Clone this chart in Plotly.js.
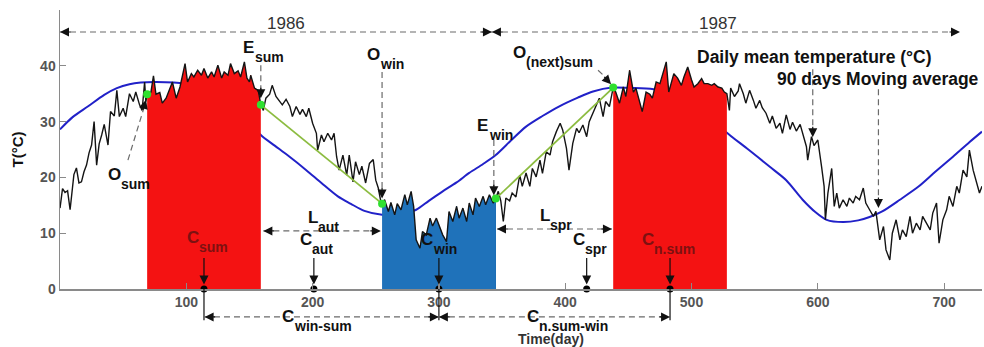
<!DOCTYPE html>
<html>
<head>
<meta charset="utf-8">
<script src="https://cdn.plot.ly/plotly-3.0.1.min.js"></script>
<style>
html, body { margin: 0; padding: 0; background: #ffffff; }
#chart { width: 984px; height: 347px; }
</style>
</head>
<body>
<div id="chart"></div>
<script>
// Daily mean temperature (°C), day of record over 1986-1987
const days = [
  0, 2, 4, 6, 8, 11, 13, 15, 17, 19, 21, 23, 25, 27, 29, 31, 33, 35, 38, 40,
  43, 45, 47, 50, 52, 55, 58, 60, 63, 65, 67, 68, 69, 72, 74, 76, 79, 81, 84, 87,
  89, 92, 95, 97, 99, 101, 104, 106, 109, 112, 114, 117, 120, 122, 125, 128, 130, 133, 135, 138,
  141, 143, 146, 148, 150, 151, 154, 157, 159, 161, 163, 166, 168, 171, 174, 176, 179, 182, 184, 187,
  190, 192, 195, 197, 200, 203, 204, 207, 209, 212, 215, 217, 219, 221, 224, 227, 229, 232, 234, 237,
  239, 242, 245, 248, 250, 252, 254, 255, 257, 260, 262, 265, 267, 270, 273, 275, 278, 280, 282, 285,
  287, 290, 293, 295, 298, 300, 303, 306, 308, 311, 314, 316, 319, 322, 324, 327, 329, 332, 335, 337,
  340, 343, 345, 347, 349, 351, 353, 356, 358, 361, 364, 366, 369, 372, 374, 377, 380, 382, 385, 388,
  390, 393, 396, 398, 401, 403, 406, 409, 411, 414, 417, 419, 422, 425, 427, 430, 432, 435, 438, 440,
  443, 446, 448, 451, 454, 456, 459, 461, 464, 467, 469, 472, 475, 477, 480, 482, 486, 489, 492, 494,
  497, 500, 502, 505, 508, 510, 513, 516, 518, 521, 524, 526, 528, 530, 531, 534, 537, 538, 541, 543,
  546, 549, 551, 554, 556, 559, 562, 564, 567, 570, 572, 575, 578, 580, 583, 586, 588, 591, 592, 595,
  597, 600, 603, 605, 606, 608, 611, 613, 615, 617, 620, 623, 625, 628, 630, 633, 636, 638, 641, 644,
  646, 649, 652, 654, 657, 659, 662, 665, 667, 670, 673, 675, 678, 681, 683, 686, 689, 691, 694, 696,
  699, 702, 704, 707, 710, 712, 715, 718, 720, 723, 725, 728, 730
];
const dailyTemp = [
  14.5, 18.0, 17.3, 17.6, 14.2, 20.5, 21.7, 19.0, 19.2, 21.0, 22.2, 24.4, 25.8, 30.0, 22.2, 26.0, 27.6, 29.5, 25.8, 31.8,
  31.0, 35.6, 30.9, 32.4, 30.9, 35.0, 33.6, 35.3, 33.0, 32.0, 37.1, 33.6, 34.9, 35.3, 38.2, 34.9, 35.2, 33.3, 34.2, 36.0,
  37.1, 34.2, 36.2, 38.3, 40.4, 37.1, 38.6, 38.0, 39.2, 38.3, 39.5, 37.8, 38.9, 38.0, 40.1, 37.8, 38.9, 38.3, 40.4, 38.6,
  39.1, 38.0, 40.7, 37.8, 37.1, 38.3, 36.0, 35.6, 33.0, 32.0, 34.2, 34.9, 36.5, 34.5, 33.6, 33.0, 34.0, 32.7, 30.9, 32.7,
  31.3, 32.2, 30.9, 32.4, 29.7, 27.9, 24.9, 27.6, 26.4, 27.9, 26.7, 27.9, 23.7, 21.3, 24.0, 20.4, 24.0, 19.2, 22.8, 20.5,
  22.0, 19.0, 22.5, 23.2, 19.5, 18.1, 15.7, 15.3, 16.0, 13.9, 15.5, 13.3, 15.3, 14.2, 16.9, 15.1, 17.5, 14.8, 8.8, 7.3,
  10.3, 9.7, 12.7, 11.3, 12.7, 11.6, 9.7, 8.5, 13.9, 12.1, 14.8, 12.7, 14.5, 12.1, 15.4, 13.3, 16.3, 14.8, 16.6, 15.1,
  16.9, 15.4, 16.2, 17.5, 15.8, 12.1, 16.3, 15.8, 17.2, 16.5, 20.4, 18.4, 20.8, 18.4, 21.6, 20.1, 23.1, 20.7, 24.6, 24.0,
  26.4, 28.2, 29.7, 28.5, 25.2, 21.3, 26.1, 28.8, 28.0, 29.4, 27.3, 30.0, 31.5, 33.0, 34.2, 30.9, 33.6, 32.7, 36.1, 35.3,
  33.3, 36.2, 34.5, 39.2, 35.3, 36.0, 33.6, 31.8, 35.3, 34.9, 34.2, 37.1, 36.8, 38.3, 40.7, 35.3, 38.6, 37.8, 36.5, 38.0,
  39.8, 37.5, 36.2, 36.8, 37.7, 36.8, 36.8, 36.5, 36.8, 36.2, 36.0, 35.3, 35.0, 32.0, 36.0, 34.5, 35.5, 36.8, 35.0, 33.3,
  35.6, 33.8, 32.4, 33.8, 32.5, 31.5, 29.7, 31.0, 28.8, 29.7, 27.9, 31.2, 28.6, 29.9, 28.3, 29.5, 27.9, 25.5, 23.1, 27.3,
  25.7, 26.7, 21.9, 18.4, 12.4, 17.2, 21.6, 14.8, 17.2, 14.5, 16.0, 14.8, 16.3, 15.4, 16.6, 16.0, 18.1, 15.4, 14.2, 13.0,
  13.9, 8.8, 11.2, 7.0, 5.2, 10.0, 12.4, 8.8, 10.6, 9.4, 13.0, 10.0, 11.8, 10.6, 13.0, 11.8, 10.6, 13.6, 15.4, 8.2,
  12.4, 14.2, 16.6, 14.8, 18.4, 17.2, 21.3, 20.1, 24.9, 21.3, 19.6, 17.2, 18.4
];

// 90-day moving average of the daily series
const maDays = [
  0, 10, 22, 35, 45, 55, 64, 75, 90, 105, 120, 135, 147, 159, 170, 180, 195, 207, 220, 230,
  241, 255, 270, 282, 292, 303, 314, 324, 335, 345, 357, 369, 382, 395, 410, 422, 437, 455, 470, 485,
  500, 515, 527, 545, 562, 575, 588, 598, 607, 620, 632, 641, 651, 665, 680, 693, 707, 720, 730
];
const maTemp = [
  28.6, 30.8, 32.7, 34.8, 36.0, 36.7, 37.0, 37.1, 37.0, 36.6, 35.5, 33.5, 31.0, 27.6, 25.7, 24.0, 21.3, 19.0, 16.6, 15.3,
  14.0, 13.3, 13.3, 14.2, 15.8, 17.5, 19.1, 20.8, 22.4, 24.0, 26.6, 29.1, 31.0, 32.7, 34.3, 35.4, 36.1, 36.0, 35.8, 35.3,
  33.5, 30.8, 28.2, 25.0, 21.9, 19.5, 16.0, 13.8, 12.4, 12.0, 12.3, 12.9, 13.9, 16.0, 18.4, 21.0, 23.7, 26.3, 28.2
];

// Hottest and coldest 90-day windows: [first day, last day]
const summerWindow = [69, 159];
const winterWindow = [255, 345];
const nextSummerWindow = [438, 528];

// Temperature centroids: summer, autumn, winter, spring, next summer
const centroidDays = [114, 201, 300, 417, 483];

const xTickVals = [100, 200, 300, 400, 500, 600, 700];
const yTickVals = [0, 10, 20, 30, 40];

const X_RANGE = [0, 730];
const Y_RANGE = [0, 50];
const FONT = 'Liberation Sans, Arial, Helvetica, sans-serif';

function tempAt(d) {
  return dailyTemp[days.indexOf(d)];
}
function windowSlice(w) {
  const xs = [], ys = [];
  days.forEach((d, i) => { if (d >= w[0] && d <= w[1]) { xs.push(d); ys.push(dailyTemp[i]); } });
  return { x: xs, y: ys };
}

// data -> paper coordinates for decorations that may sit outside the axes
const xp = d => (d - X_RANGE[0]) / (X_RANGE[1] - X_RANGE[0]);
const yp = t => (t - Y_RANGE[0]) / (Y_RANGE[1] - Y_RANGE[0]);

const sumW = windowSlice(summerWindow);
const winW = windowSlice(winterWindow);
const nsumW = windowSlice(nextSummerWindow);

// onset / end points of the summer and winter windows
const phaseDays = [summerWindow[0], summerWindow[1], winterWindow[0], winterWindow[1], nextSummerWindow[0]];
const phaseTemps = phaseDays.map(tempAt);

// filled window with faint daily stripes
function windowTraces(w, fill, stripe) {
  return [
    { x: w.x, y: w.y, type: 'scatter', mode: 'none', fill: 'tozeroy', fillcolor: fill, hoverinfo: 'skip' },
    { x: w.x, y: w.y, type: 'bar', width: 0.45, marker: { color: stripe, line: { width: 0 } }, hoverinfo: 'skip' }
  ];
}

const traces = [
  { x: maDays, y: maTemp, type: 'scatter', mode: 'lines', line: { color: '#2121c8', width: 2, shape: 'spline', smoothing: 0.8 }, hoverinfo: 'skip' }
].concat(
  windowTraces(sumW, '#f41212', '#dd0e0e'),
  windowTraces(winW, '#1f72ba', '#1b66a8'),
  windowTraces(nsumW, '#f41212', '#dd0e0e'),
  [
    { x: days, y: dailyTemp, type: 'scatter', mode: 'lines', line: { color: '#141414', width: 1.4 } },
    { x: [phaseDays[1], phaseDays[2]], y: [phaseTemps[1], phaseTemps[2]], type: 'scatter', mode: 'lines', line: { color: '#8cbc40', width: 1.8 } },
    { x: [phaseDays[3], phaseDays[4]], y: [phaseTemps[3], phaseTemps[4]], type: 'scatter', mode: 'lines', line: { color: '#8cbc40', width: 1.8 } },
    { x: phaseDays, y: phaseTemps, type: 'scatter', mode: 'markers', marker: { color: '#2fe02f', size: 8 } },
    { x: centroidDays, y: centroidDays.map(() => 0), type: 'scatter', mode: 'markers', marker: { color: '#000', size: 7 }, cliponaxis: false }
  ]
);

const DASH = { color: '#6a6a6a', width: 1.2, dash: '6px,4px' };
const shapes = [];
const annotations = [];

function dashed(d0, t0, d1, t1) {
  shapes.push({ type: 'line', xref: 'paper', yref: 'paper', x0: xp(d0), y0: yp(t0), x1: xp(d1), y1: yp(t1), line: DASH, layer: 'above' });
}
function solid(d0, t0, d1, t1) {
  shapes.push({ type: 'line', xref: 'paper', yref: 'paper', x0: xp(d0), y0: yp(t0), x1: xp(d1), y1: yp(t1), line: { color: '#111', width: 1.2 }, layer: 'above' });
}
// arrowhead at (d, t); (ax, ay) = screen offset of the tail in pixels
function head(d, t, ax, ay) {
  annotations.push({ xref: 'paper', yref: 'paper', x: xp(d), y: yp(t), ax: ax, ay: ay, text: '', showarrow: true,
    arrowhead: 2, arrowsize: 1.5, arrowwidth: 1.2, arrowcolor: '#111' });
}
function text(str, d, t, size, color, bold, xanchor, yanchor) {
  annotations.push({ xref: 'paper', yref: 'paper', x: xp(d), y: yp(t), text: bold ? '<b>' + str + '</b>' : str,
    showarrow: false, xanchor: xanchor || 'center', yanchor: yanchor || 'middle',
    font: { family: FONT, size: size, color: color } });
}
// letter with a lowered subscript
function symbol(main, sub, d, t, color) {
  const shift = { E: 12, O: 13, C: 12, L: 10 }[main];
  const base = { xref: 'paper', yref: 'paper', x: xp(d), y: yp(t), xanchor: 'left', yanchor: 'top', showarrow: false };
  annotations.push(Object.assign({}, base, { text: '<b>' + main + '</b>', font: { family: FONT, size: 17, color: color } }));
  annotations.push(Object.assign({}, base, { text: '<b>' + sub + '</b>', font: { family: FONT, size: 14, color: color }, xshift: shift, yshift: -11 }));
}

// year spans
const yearLine = 46.06, yearSplit = 342;
dashed(0, yearLine, yearSplit, yearLine);
dashed(yearSplit, yearLine, 712.6, yearLine);
head(0, yearLine, 12, 0);
head(yearSplit, yearLine, -12, 0);
head(yearSplit, yearLine, 12, 0);
head(712.6, yearLine, -12, 0);
text('1986', 178.9, 47.67, 17, '#333', false);
text('1987', 521, 47.67, 17, '#333', false);

// onset / end pointers
dashed(phaseDays[1], 40.1, phaseDays[1], phaseTemps[1] + 1.6);
head(phaseDays[1], phaseTemps[1] + 1.2, 0, -12);
symbol('E', 'sum', 143.3, 45.4, '#111');

dashed(53.8, 23.1, 67.6, 33.3);
head(68.1, 33.9, -3.5, 11.5);
symbol('O', 'sum', 36.4, 22.6, '#111');

dashed(phaseDays[2], 38.9, phaseDays[2], phaseTemps[2] + 1.4);
head(phaseDays[2], phaseTemps[2] + 0.9, 0, -12);
symbol('O', 'win', 241.5, 44.1, '#111');

dashed(426, 39.2, 435.6, 37.2);
head(436.3, 36.7, -8.2, -8.8);
symbol('O', '(next)sum', 357.1, 44.5, '#111');

dashed(343.5, 26.7, 343.5, phaseTemps[3] + 1.2);
head(343.5, phaseTemps[3] + 0.6, 0, -12);
symbol('E', 'win', 328.6, 31.4, '#111');

// autumn / spring transitions
dashed(summerWindow[1] + 2, 10.4, winterWindow[0] - 1, 10.4);
head(summerWindow[1] + 2, 10.4, 12, 0);
head(winterWindow[0] - 1, 10.4, -12, 0);
symbol('L', 'aut', 194.8, 14.9, '#111');
symbol('C', 'aut', 188.4, 11.0, '#111');

dashed(winterWindow[1] + 1, 10.75, nextSummerWindow[0] - 1, 10.75);
head(winterWindow[1] + 1, 10.75, 12, 0);
head(nextSummerWindow[0] - 1, 10.75, -12, 0);
symbol('L', 'spr', 378.5, 15.3, '#111');
symbol('C', 'spr', 404.6, 11.0, '#111');

symbol('C', 'sum', 99, 11.3, '#7d1111');
symbol('C', 'win', 284.3, 11.0, '#111');
symbol('C', 'n.sum', 459.2, 11.0, '#7d1111');

// centroid pointers
centroidDays.forEach(d => head(d, 0.8, 0, -28));

// centroid spacing below the axis
const gapLevel = -5.0;
[centroidDays[0], centroidDays[2], centroidDays[4]].forEach(d => solid(d, 0, d, gapLevel - 0.6));
dashed(centroidDays[0], gapLevel, centroidDays[2], gapLevel);
dashed(centroidDays[2], gapLevel, centroidDays[4], gapLevel);
head(centroidDays[0] + 0.5, gapLevel, 12, 0);
head(centroidDays[2], gapLevel, -12, 0);
head(centroidDays[2], gapLevel, 12, 0);
head(centroidDays[4], gapLevel, -12, 0);
symbol('C', 'win-sum', 174.2, -2.9, '#111');
symbol('C', 'n.sum-win', 368.2, -2.9, '#111');

// series callouts
text('Daily mean temperature (°C)', 597, 41.6, 17.5, '#111', true);
dashed(596, 39.4, 596, 27.8);
head(596, 27.2, 0, -12);
text('90 days Moving average', 647.7, 37.6, 17.5, '#111', true);
dashed(648, 35.8, 648, 15.1);
head(648, 14.5, 0, -12);

// axis titles
text('Time(day)', 389, -8.95, 14, '#333', true);
annotations.push({ xref: 'paper', yref: 'paper', x: -0.0456, y: 0.5, text: '<b>T(°C)</b>', textangle: -90,
  showarrow: false, xanchor: 'center', yanchor: 'middle', font: { family: FONT, size: 15, color: '#111' } });

const axisCommon = {
  showgrid: false, zeroline: false, showline: true, linecolor: '#8a8a8a', linewidth: 1.5,
  ticks: 'inside', ticklen: 6, tickwidth: 1.2, tickcolor: '#8a8a8a',
  tickfont: { family: FONT, size: 14, color: '#555', weight: 'bold' }, fixedrange: true
};

const layout = {
  width: 984, height: 347,
  margin: { l: 60, r: 2, t: 10, b: 58 },
  paper_bgcolor: '#ffffff', plot_bgcolor: '#ffffff',
  showlegend: false,
  bargap: 0,
  xaxis: Object.assign({}, axisCommon, { range: X_RANGE, tickvals: xTickVals }),
  yaxis: Object.assign({}, axisCommon, { range: Y_RANGE, tickvals: yTickVals }),
  shapes: shapes,
  annotations: annotations
};

Plotly.newPlot('chart', traces, layout, { displayModeBar: false, staticPlot: true });
</script>
</body>
</html>
